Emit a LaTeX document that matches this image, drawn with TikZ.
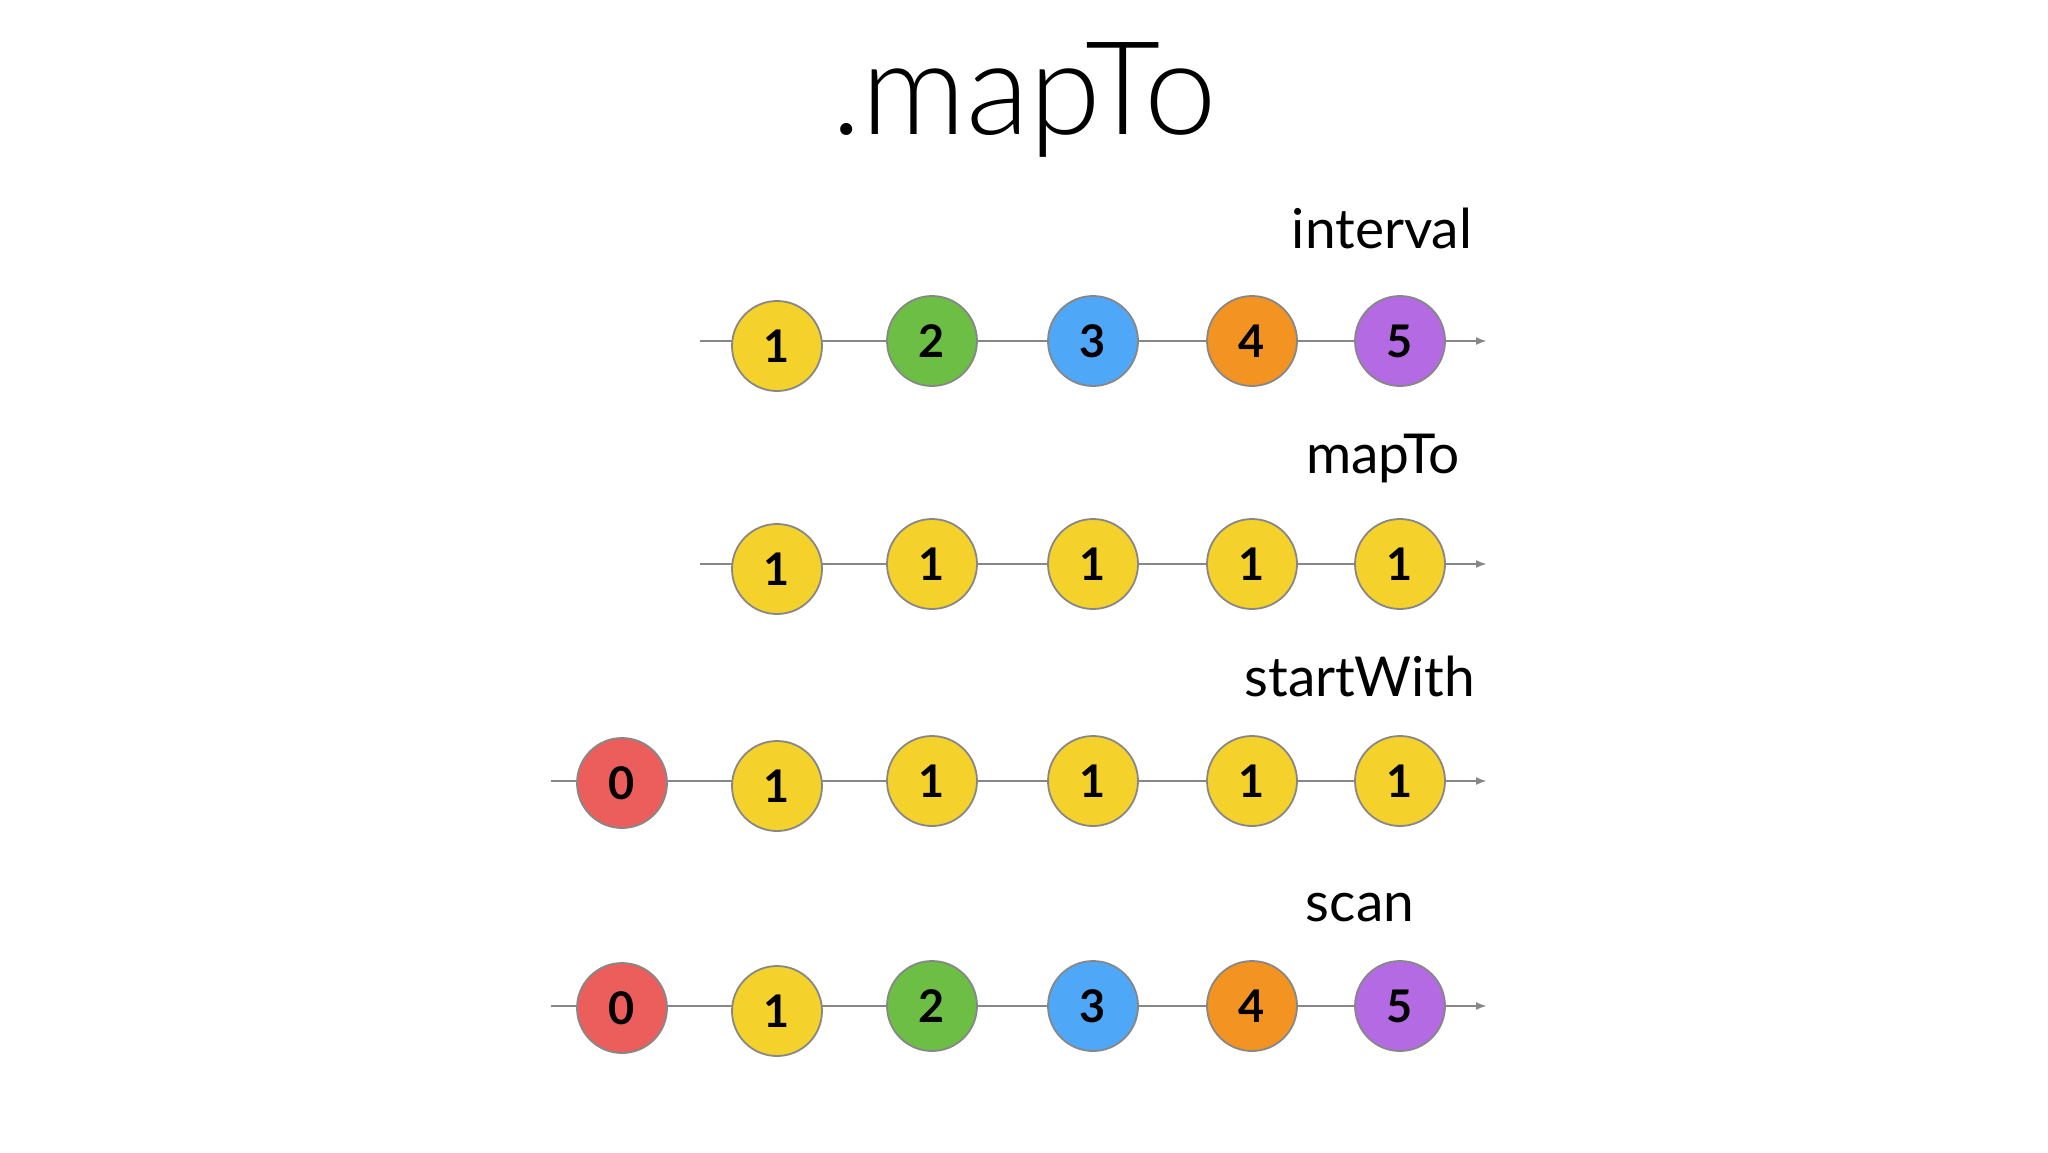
\documentclass[tikz,border=0pt]{standalone}
\usepackage{fontspec}
\setmainfont{Lato}
\newfontfamily\titlefont{Lato Light}
\usepackage{xcolor}
\usetikzlibrary{arrows.meta}

\definecolor{mbyellow}{HTML}{F4D22B}
\definecolor{mbgreen}{HTML}{6CBE45}
\definecolor{mbblue}{HTML}{4FA7F7}
\definecolor{mborange}{HTML}{F39322}
\definecolor{mbpurple}{HTML}{B36AE2}
\definecolor{mbred}{HTML}{EC5E5B}
\definecolor{mbline}{HTML}{878787}

\begin{document}
\begin{tikzpicture}[x=1pt,y=-1pt]
            \tikzstyle{every node}+=[inner sep=0pt]
            \tikzstyle{marble}=[circle, draw=mbline, line width=1.8pt, minimum size=90pt, font=\fontsize{45}{45}\selectfont\bfseries]
            \tikzstyle{timeline}=[mbline, line width=2pt, -{Latex[length=11pt,width=8pt]}]
            \tikzstyle{oplabel}=[anchor=base, font=\fontsize{55}{55}\selectfont]
            \useasboundingbox [fill=white] (0,0) rectangle (2048,1152);
            \node [anchor=base, font=\fontsize{130}{130}\titlefont] (title) at (1024,134) {.mapTo};
            % interval
            \node [oplabel] (interval) at (1382,248) {interval};
            \coordinate (s1) at (700,341);
            \coordinate (e1) at (1487,341);
            \draw [timeline] (s1) -- (e1);
            \node [marble, fill=mbyellow] (a1) at (777,346) {1};
            \node [marble, fill=mbgreen] (a2) at (932,341) {2};
            \node [marble, fill=mbblue] (a3) at (1093,341) {3};
            \node [marble, fill=mborange] (a4) at (1252,341) {4};
            \node [marble, fill=mbpurple] (a5) at (1400,341) {5};
            % mapTo
            \node [oplabel] (mapto) at (1383,473) {mapTo};
            \coordinate (s2) at (700,564);
            \coordinate (e2) at (1487,564);
            \draw [timeline] (s2) -- (e2);
            \node [marble, fill=mbyellow] (b1) at (777,569) {1};
            \node [marble, fill=mbyellow] (b2) at (932,564) {1};
            \node [marble, fill=mbyellow] (b3) at (1093,564) {1};
            \node [marble, fill=mbyellow] (b4) at (1252,564) {1};
            \node [marble, fill=mbyellow] (b5) at (1400,564) {1};
            % startWith
            \node [oplabel] (startwith) at (1360,696) {startWith};
            \coordinate (s3) at (551,781);
            \coordinate (e3) at (1487,781);
            \draw [timeline] (s3) -- (e3);
            \node [marble, fill=mbred] (c0) at (622,783) {0};
            \node [marble, fill=mbyellow] (c1) at (777,786) {1};
            \node [marble, fill=mbyellow] (c2) at (932,781) {1};
            \node [marble, fill=mbyellow] (c3) at (1093,781) {1};
            \node [marble, fill=mbyellow] (c4) at (1252,781) {1};
            \node [marble, fill=mbyellow] (c5) at (1400,781) {1};
            % scan
            \node [oplabel] (scan) at (1360,921) {scan};
            \coordinate (s4) at (551,1006);
            \coordinate (e4) at (1487,1006);
            \draw [timeline] (s4) -- (e4);
            \node [marble, fill=mbred] (d0) at (622,1008) {0};
            \node [marble, fill=mbyellow] (d1) at (777,1011) {1};
            \node [marble, fill=mbgreen] (d2) at (932,1006) {2};
            \node [marble, fill=mbblue] (d3) at (1093,1006) {3};
            \node [marble, fill=mborange] (d4) at (1252,1006) {4};
            \node [marble, fill=mbpurple] (d5) at (1400,1006) {5};
\end{tikzpicture}
\end{document}
